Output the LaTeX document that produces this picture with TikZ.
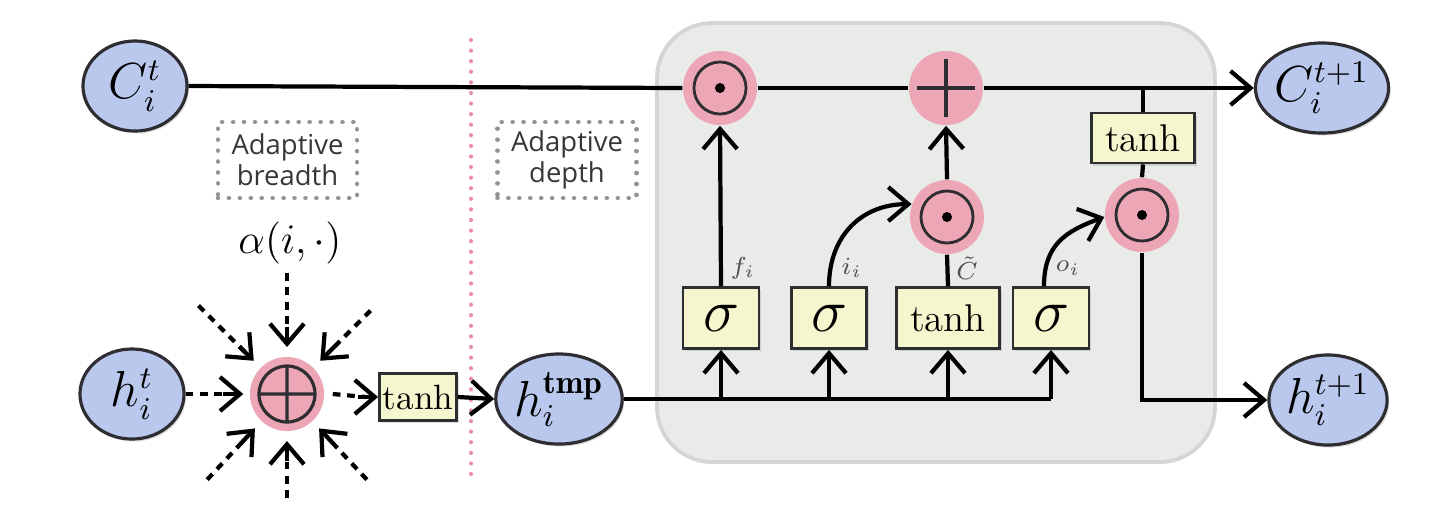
\documentclass[tikz,border=0pt]{standalone}
\usepackage{fontspec}
\newfontfamily\adfont{Open Sans}
\usetikzlibrary{arrows.meta,shapes.geometric,calc,shadows}
\definecolor{cblue}{RGB}{186,200,238}
\definecolor{cpink}{RGB}{236,166,181}
\definecolor{cyel}{RGB}{245,245,206}
\definecolor{cgray}{RGB}{233,235,233}
\definecolor{cgrayb}{RGB}{212,214,212}
\definecolor{cdots}{RGB}{234,140,165}
\definecolor{cedge}{RGB}{45,45,50}
\definecolor{ctext}{RGB}{80,80,80}
\definecolor{cadt}{RGB}{55,55,55}
\begin{document}
\begin{tikzpicture}[x=0.01cm,y=-0.01cm,
  shad/.style={drop shadow={opacity=0.25,shadow xshift=0.02cm,shadow yshift=-0.025cm}},
  state/.style={ellipse,draw=cedge,line width=0.9pt,fill=cblue,minimum width=1.04cm,minimum height=0.9cm,inner sep=0pt,font=\fontsize{13.5}{15}\selectfont,shad},
  pnode/.style={circle,fill=cpink,minimum size=0.74cm,inner sep=0pt},
  odotn/.style={pnode,path picture={\draw[line width=0.8pt,cedge] (path picture bounding box.center) circle (0.26cm);
      \fill[black] (path picture bounding box.center) circle (0.05cm);}},
  plusn/.style={pnode,path picture={\draw[line width=0.9pt,cedge] ($(path picture bounding box.center)+(-0.29cm,0)$) -- ++(0.58cm,0)
      ($(path picture bounding box.center)+(0,-0.29cm)$) -- ++(0,0.58cm);}},
  oplusn/.style={pnode,path picture={\draw[line width=0.9pt,cedge] (path picture bounding box.center) circle (0.28cm)
      ($(path picture bounding box.center)+(-0.28cm,0)$) -- ++(0.56cm,0)
      ($(path picture bounding box.center)+(0,-0.28cm)$) -- ++(0,0.56cm);}},
  gbox/.style={rectangle,draw=cedge,line width=0.8pt,fill=cyel,minimum height=0.61cm,inner sep=0pt,shad},
  lab/.style={font=\fontsize{7.5}{9}\selectfont,text=ctext},
  adbox/.style={rectangle,draw=gray!85,line width=1.3pt,dash pattern=on 0.01pt off 3.1pt,line cap=round,
      minimum width=1.39cm,minimum height=0.76cm,inner sep=0pt,align=center,text=cadt,
      font=\adfont\fontsize{7.8}{8.9}\selectfont},
  ln/.style={line width=1.2pt,black},
  arr/.style={ln,-{Straight Barb[length=2mm,width=3.4mm]}},
  dln/.style={ln,dash pattern=on 2.2pt off 1.9pt}
]
\useasboundingbox (0,0) rectangle (1440,523);
% LSTM cell background
\draw[fill=cgray,draw=cgrayb,line width=1.1pt,rounded corners=0.55cm] (657,23) rectangle (1215,462);
% pink separator
\coordinate (septop) at (471,40);
\coordinate (sepbot) at (471,482);
\draw[cdots,line width=1.2pt,line cap=round,dash pattern=on 0.01pt off 3pt] (septop) -- (sepbot);

% nodes
\node[state] (Ct) at (135,86) {$C_i^t$};
\node[state] (ht) at (132,394) {$h_i^t$};
\node[oplusn] (opl) at (287,394) {};
\node[gbox,minimum width=0.77cm,minimum height=0.47cm,font=\fontsize{10}{12}\selectfont] (tsm) at (418,397) {tanh};
\node[state] (htmp) at (559,399) {$h_i^{\mathbf{tmp}}$};
\node[font=\fontsize{13}{15}\selectfont] (alpha) at (290,243) {$\alpha(i,\cdot)$};
\node[adbox] (ab) at (287.5,160) {Adaptive\\breadth};
\node[adbox] (ad) at (567,160) {Adaptive\\depth};

\node[odotn] (f1) at (720,88) {};
\node[plusn] (plus) at (946,88) {};
\node[odotn] (o2) at (947,217) {};
\node[odotn] (o3) at (1142,215) {};
\node[gbox,minimum width=1.03cm,minimum height=0.5cm,font=\fontsize{11}{13}\selectfont] (tr) at (1143,138) {tanh};

\node[gbox,minimum width=0.76cm,font=\fontsize{16}{18}\selectfont] (s1) at (721,318) {$\sigma$};
\node[gbox,minimum width=0.75cm,font=\fontsize{16}{18}\selectfont] (s2) at (829,318) {$\sigma$};
\node[gbox,minimum width=1.03cm,font=\fontsize{11}{13}\selectfont] (tg) at (948,318) {tanh};
\node[gbox,minimum width=0.76cm,font=\fontsize{16}{18}\selectfont] (s3) at (1051,318) {$\sigma$};

\node[lab] (lf) at (743,268) {$f_i$};
\node[lab] (li) at (852,268) {$i_i$};
\node[lab] (lc) at (967,268) {$\tilde{C}$};
\node[lab] (lo) at (1068,268) {$o_i$};

\node[state] (Cn) at (1322,88) {$C_i^{t+1}$};
\node[state] (hn) at (1328,400) {$h_i^{t+1}$};

% dashed inputs to the breadth sum: dashed shaft + solid tip
\foreach \ang/\dist in {135/1.25, 90/1.21, 45/1.18, 227/1.17, 270/1.04, 313/1.17}{
  \coordinate (ds\ang) at ($(opl)+(\ang:\dist cm)$);
  \coordinate (dt\ang) at ($(opl)+(\ang:0.47cm)$);
  \draw[dln] (ds\ang) -- ($(dt\ang)!0.12cm!(ds\ang)$);
  \draw[arr] ($(dt\ang)!0.2cm!(ds\ang)$) -- (dt\ang);
}
\coordinate (lt) at ($(opl.west)+(-0.06cm,0)$);
\draw[dln] (ht.east) -- ($(lt)+(-0.12cm,0)$);
\draw[arr] ($(lt)+(-0.2cm,0)$) -- (lt);
\draw[dln] ($(opl.east)+(0.08cm,0)$) -- ($(tsm.west)+(-0.12cm,0)$);
\draw[arr] ($(tsm.west)+(-0.2cm,0)$) -- (tsm.west);
\draw[arr] (tsm.east) -- (htmp.west);

% cell state path
\draw[ln] (Ct.east) -- (f1.west);
\draw[ln] (f1.east) -- (plus.west);
\draw[arr] (plus.east) -- (Cn.west);
\draw[ln] (tr.north) -- (tr.north |- plus.east);
\draw[ln] (tr.south) -- (o3.north);

% input bus
\draw[ln] (htmp.east) -- (s3 |- htmp.east);
\draw[arr] (s1 |- htmp.east) -- (s1.south);
\draw[arr] (s2 |- htmp.east) -- (s2.south);
\draw[arr] (tg |- htmp.east) -- (tg.south);
\draw[arr] (s3 |- htmp.east) -- (s3.south);

% gates
\draw[arr] (s1.north) -- (f1.south);
\draw[arr] (s2.north) to[out=90,in=180,looseness=1.1] (o2.160);
\draw[ln] (tg.north) -- (o2.south);
\draw[arr] (o2.north) -- (plus.south);
\draw[arr] ($(s3.north)+(-0.07cm,0)$) to[out=90,in=200,looseness=1.15] (o3.183);
\draw[arr] (o3.south) |- (hn.west);
\end{tikzpicture}
\end{document}
